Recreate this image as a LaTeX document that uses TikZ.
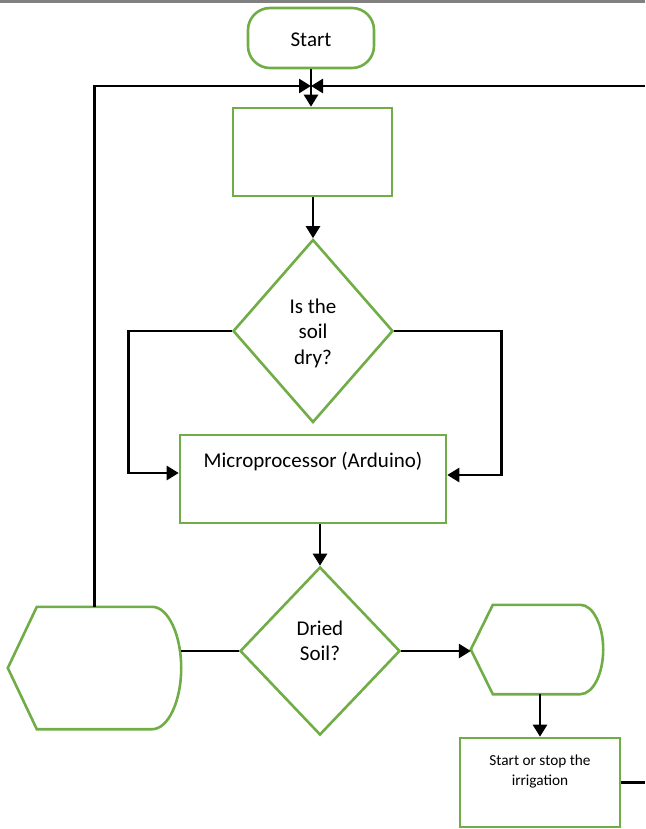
\documentclass[tikz,border=0pt]{standalone}
\usepackage{fontspec}
\setmainfont{Carlito}
\usepackage{tikz}
\usetikzlibrary{calc}
\usetikzlibrary{arrows.meta}
\usetikzlibrary{shapes.geometric}
\definecolor{offgreen}{RGB}{112,173,71}
\definecolor{rulegray}{RGB}{128,128,128}
\newcommand{\toplines}[2]{\parbox[t]{#1}{\centering #2}}

\begin{document}
\begin{tikzpicture}[x=1pt,y=-1pt,
	box/.style={draw=offgreen,line width=2.6pt,inner sep=0pt,font=\fontsize{21}{25.6}\selectfont},
	proc/.style={box,rectangle},
	term/.style={box,rectangle,rounded corners=22pt},
	decision/.style={box,diamond},
	shell/.style={inner sep=0pt},
	outline/.style={draw=offgreen,line width=2.6pt},
	flow/.style={line width=2.6pt,-{Triangle[length=12pt,width=14pt]}},
	link/.style={line width=2.6pt}]
	
	\useasboundingbox (0,0) rectangle (645,829);
	\fill[rulegray] (0,0) rectangle (645,3);
	
	\node[term,minimum width=126pt,minimum height=60pt,text height=39pt,text depth=21pt] (start) at (311,38) {Start};
	\node[proc,minimum width=159pt,minimum height=88pt] (sense) at (312.5,152) {};
	\node[decision,minimum width=160pt,minimum height=183pt,text height=20pt,text depth=56pt] (dry) at (313,331) {\toplines{70pt}{Is the\\soil\\dry?}};
	\node[proc,minimum width=266pt,minimum height=88pt,text height=32pt,text depth=56pt] (mcu) at (313,479) {Microprocessor (Arduino)};
	\node[decision,minimum width=160pt,minimum height=168pt,text height=20pt,text depth=52pt] (dried) at (320,651) {\toplines{70pt}{Dried\\Soil?}};
	\node[shell,minimum width=173pt,minimum height=122pt] (show) at (94.5,668) {};
	\node[shell,minimum width=132pt,minimum height=89pt] (pump) at (537,649.5) {};
	\node[proc,minimum width=160pt,minimum height=89pt,text height=27pt,text depth=62pt,font=\fontsize{15.3}{20}\selectfont] (act) at (540,782.5) {\toplines{150pt}{Start or stop the\\irrigation}};
	
	\draw[outline] (show.west) -- ([xshift=29pt]show.north west) -- ([xshift=-29pt]show.north east) .. controls ([xshift=-13pt]show.north east) and ([yshift=33pt]show.east) .. (show.east) .. controls ([yshift=-33pt]show.east) and ([xshift=-13pt]show.south east) .. ([xshift=-29pt]show.south east) -- ([xshift=29pt]show.south west) -- cycle;
	\draw[outline] (pump.west) -- ([xshift=22pt]pump.north west) -- ([xshift=-23pt]pump.north east) .. controls ([xshift=-10pt]pump.north east) and ([yshift=24pt]pump.east) .. (pump.east) .. controls ([yshift=-24pt]pump.east) and ([xshift=-10pt]pump.south east) .. ([xshift=-23pt]pump.south east) -- ([xshift=22pt]pump.south west) -- cycle;
	
	\coordinate (join) at (311,86);
	\coordinate (redge) at (645,86);
	
	\draw[flow] (start.south) -- (start.south |- sense.north);
	\draw[flow] (show.north) |- (join);
	\draw[flow] (redge) -- (join);
	\draw[flow] (sense.south -| dry.north) -- (dry.north);
	\draw[flow] (dry.west) -- ++(-103,0) |- ([yshift=6pt]mcu.west);
	\draw[flow] (dry.east) -- ++(107,0) |- ([yshift=4pt]mcu.east);
	\draw[flow] (mcu.south -| dried.north) -- (dried.north);
	\draw[link] (dried.west) -- (dried.west -| show.east);
	\draw[flow] (dried.east) -- (dried.east -| pump.west);
	\draw[flow] (act.north |- pump.south) -- (act.north);
	\draw[link] (act.east) -- (act.east -| redge);
\end{tikzpicture}
\end{document}
